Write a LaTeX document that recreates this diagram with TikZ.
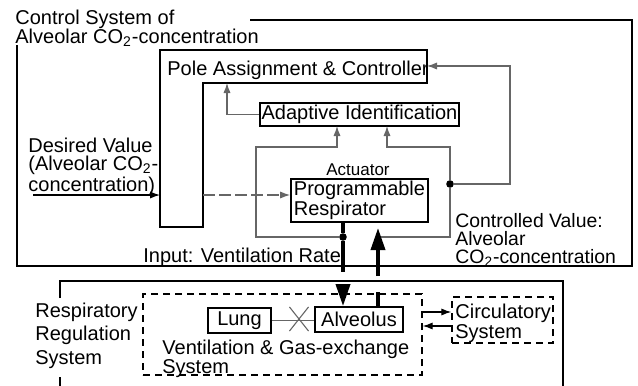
\documentclass[tikz,border=0pt]{standalone}
\usepackage{fontspec}
\setmainfont{Liberation Sans}
\usetikzlibrary{arrows.meta,shapes.misc}
\newcommand\cotwo{CO\textsubscript{2}}
\begin{document}
\begin{tikzpicture}[x=0.5pt,y=-0.5pt, font=\fontsize{10}{9.5}\selectfont,
  box/.style={draw, line width=0.9pt, inner sep=0pt},
  dbox/.style={draw, line width=0.7pt, dash pattern=on 3.5pt off 2.5pt, inner sep=0pt},
  thinln/.style={draw=black!60, line width=0.55pt},
  tip/.style={-{Latex[length=5pt,width=3.6pt]}},
  bigtip/.style={-{Triangle[length=11pt,width=7pt]}},
  thickln/.style={line width=1.8pt},
  dot/.style={circle, fill, inner sep=0pt, minimum size=3.8pt},
  txt/.style={inner sep=0pt, align=left}]
\useasboundingbox (0,0) rectangle (638,386);

% outer frames
\draw[line width=1pt] (250,20) -- (632,20) -- (632,266) -- (17,266) -- (17,45);
\draw[line width=1pt] (60,298) -- (60,281) -- (563,281) -- (563,386);
\draw[line width=1pt] (60,377) -- (60,386);

% texts
\node[txt, anchor=north west] (title) at (15,9.5) {Control System of\\Alveolar \cotwo-concentration};
\node[txt, anchor=north west, font=\fontsize{10}{9}\selectfont] (des) at (28,138) {Desired Value\\(Alveolar \cotwo-\\concentration)};
\node[anchor=base west, inner sep=0pt] (inp) at (143,262) {Input: Ventilation Rate};
\node[txt, anchor=north west, font=\fontsize{9.7}{9}\selectfont] (cv) at (455,213) {Controlled Value:\\Alveolar\\\cotwo-concentration};
\node[txt, anchor=north west, font=\fontsize{10}{11.75}\selectfont] (rrs) at (35,302.6) {Respiratory\\Regulation\\System};

% pole assignment box
\draw[line width=0.8pt] (160,50) -- (427,50) -- (427,83) -- (203,83) -- (203,227) -- (160,227) -- cycle;
\node[anchor=base west, inner sep=0pt] (pole) at (167,75) {Pole Assignment \& Controller};
\coordinate (poleIn) at (160,195);
\coordinate (poleOut) at (203,195);
\coordinate (poleB) at (227,83);
\coordinate (poleR) at (427,66);
\coordinate (desS) at (33,195);

% adaptive identification
\node[box, minimum width=99.5pt, minimum height=11.5pt] (adapt) at (359.5,114.5) {Adaptive Identification};
\coordinate (inA) at (337,126);
\coordinate (inB) at (387,126);

% respirator
\node[box, minimum width=68.5pt, minimum height=21.5pt, align=left, font=\fontsize{10}{10}\selectfont] (resp) at (359.5,200.5) {Programmable\\Respirator};
\node[anchor=base, inner sep=0pt, font=\fontsize{8.5}{9}\selectfont] (act) at (358,175) {Actuator};

% dots and junctions
\node[dot] (dA) at (343,237) {};
\node[dot] (dB) at (450,184) {};
\coordinate (cA1) at (256,147);
\coordinate (cB1) at (387,147);
\coordinate (cC) at (510,66);
\coordinate (mj) at (378,237);
\coordinate (rtop) at (378,228);

% lower system
\node[dbox, minimum width=139.5pt, minimum height=40.5pt] (gas) at (282.5,334.5) {};
\node[txt, anchor=north west, font=\fontsize{10}{9.75}\selectfont] (gastxt) at (162,339.6) {Ventilation \& Gas-exchange\\System};
\node[box, minimum width=31.5pt, minimum height=12.5pt] (lung) at (239.5,320.5) {Lung};
\node[box, minimum width=44pt, minimum height=12.5pt] (alv) at (359,319.5) {Alveolus};
\node[draw=black!60, line width=0.55pt, cross out, minimum width=9pt, minimum height=11.5pt, inner sep=0pt] (xx) at (299,319) {};
\node[dbox, minimum width=50.5pt, minimum height=23pt] (circ) at (502.5,320) {};
\node[txt, anchor=north west, font=\fontsize{10}{9}\selectfont] (circtxt) at (455,303.6) {Circulatory\\System};
\path ([yshift=4pt]circ.west) coordinate (cw1);
\path ([yshift=-3pt]circ.west) coordinate (cw2);

% connectors
\draw[tip, line width=0.6pt] (desS) -- (poleIn);
\draw[tip, draw=black!60, line width=0.6pt, dash pattern=on 6pt off 2pt] (poleOut) -- (resp.west |- poleOut);
\draw[thinln, tip] (adapt.west) -| (poleB);
\draw[thinln, tip] (dA) -| (cA1) -| (inA);
\draw[thinln] (mj) -| (dB);
\draw[thinln, tip] (dB) |- (cB1) -- (inB);
\draw[thinln, tip] (dB) -| (cC) -- (poleR);
\draw[thickln] (resp.south -| dA) -- (dA);
\draw[thickln, bigtip, dash pattern=on 15.5pt off 7.5pt on 60pt] (dA) -- (alv.north -| dA);
\draw[thickln, bigtip, dash pattern=on 7pt off 8pt on 60pt] (alv.north -| mj) -- (rtop);
\draw[thinln] (lung.east) -- (alv.west |- lung.east);
\draw[tip, line width=0.6pt] (gas.east |- cw1) -- (cw1);
\draw[tip, line width=0.6pt] (cw2) -- (gas.east |- cw2);
\end{tikzpicture}
\end{document}
